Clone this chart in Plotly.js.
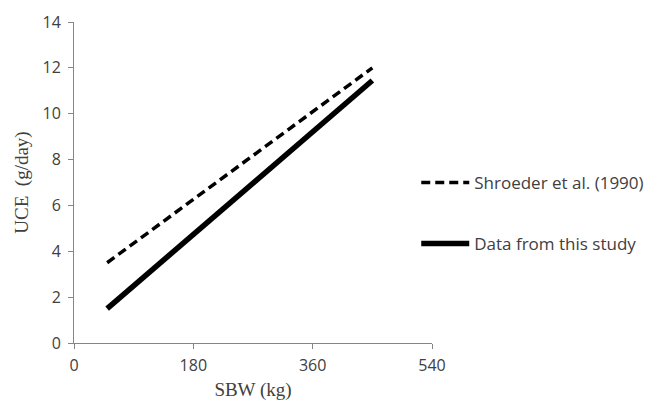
<!DOCTYPE html>
<html>
<head>
<meta charset="utf-8">
<script src="https://cdn.plot.ly/plotly-3.0.1.min.js"></script>
<style>html,body{margin:0;padding:0;background:#fff;}#chart{width:656px;height:401px;}</style>
</head>
<body>
<div id="chart"></div>
<script>
var sbw = [50, 450];
var shroeder = [3.5, 12.0];
var thisStudy = [1.5, 11.45];
var xTicks = [0, 180, 360, 540];
var yTicks = [0, 2, 4, 6, 8, 10, 12, 14];

var traces = [
  {x: sbw, y: shroeder, mode: 'lines', name: 'Shroeder et al. (1990)', legendgroup: 'a',
   line: {color: '#000', width: 3.5, dash: '9px,5px'}},
  {x: sbw, y: thisStudy, mode: 'lines', name: 'Data from this study', legendgroup: 'b',
   line: {color: '#000', width: 5.5}}
];
var tickFont = {family: 'Open Sans, sans-serif', size: 16, color: '#404040'};
var titleFont = {family: 'Liberation Serif, serif', size: 19, color: '#404040'};
var layout = {
  width: 656, height: 401,
  margin: {l: 74, r: 224, t: 22, b: 58, autoexpand: false},
  paper_bgcolor: '#fff', plot_bgcolor: '#fff',
  showlegend: true,
  legend: {x: 0.956, y: 0.555, xanchor: 'left', yanchor: 'top', traceorder: 'grouped', tracegroupgap: 36,
    itemwidth: 48,
    font: {family: 'Open Sans, sans-serif', size: 17, color: '#404040'}, bgcolor: 'rgba(0,0,0,0)'},
  xaxis: {range: [0, 540], tickvals: xTicks, ticktext: xTicks.map(String), showgrid: false, zeroline: false,
    showline: true, linecolor: '#868686', linewidth: 1, ticks: 'outside', ticklen: 5, tickcolor: '#868686',
    ticklabelstandoff: 3, tickfont: tickFont,
    title: {text: 'SBW (kg)', font: titleFont, standoff: 8}},
  yaxis: {range: [0, 14], tickvals: yTicks, ticktext: yTicks.map(String), showgrid: false, zeroline: false,
    showline: true, linecolor: '#868686', linewidth: 1, ticks: 'outside', ticklen: 5, tickcolor: '#868686',
    ticklabelstandoff: 4, tickfont: tickFont,
    title: {text: 'UCE  (g/day)', font: titleFont, standoff: 8}}
};
Plotly.newPlot('chart', traces, layout, {displayModeBar: false, staticPlot: true});
</script>
</body>
</html>
